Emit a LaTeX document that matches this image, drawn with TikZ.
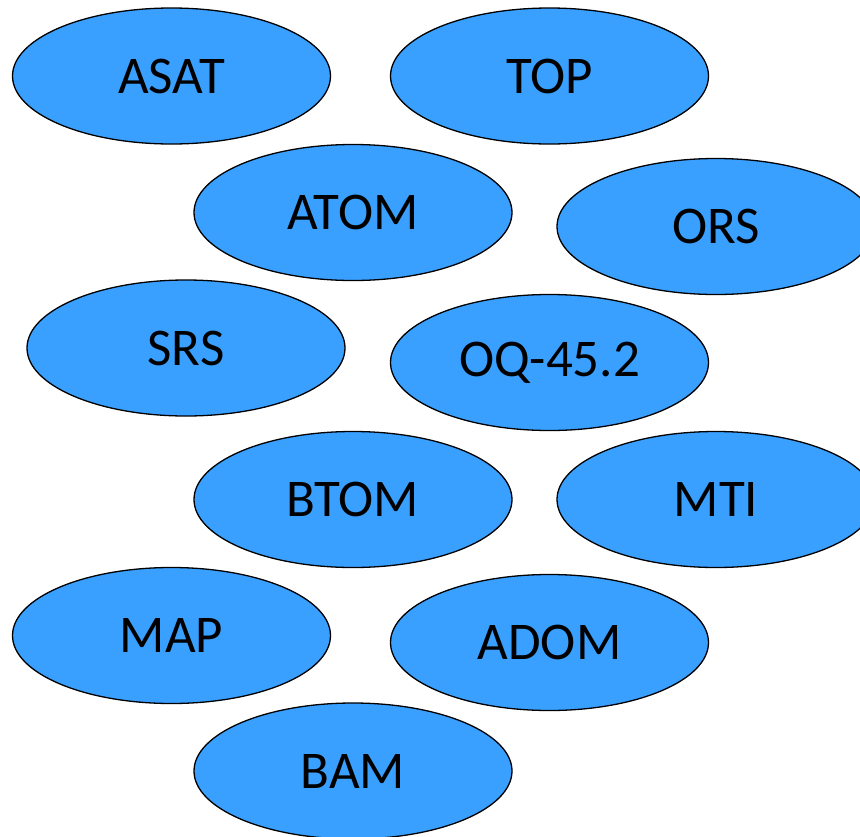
\documentclass[tikz,border=0pt]{standalone}
\usepackage{fontspec}
\setmainfont{Carlito}
\usetikzlibrary{shapes.geometric}
\definecolor{ovalblue}{RGB}{58,160,255}
\begin{document}
\begin{tikzpicture}[x=1pt,y=-1pt,
  oval/.style={ellipse, draw=black, line width=1.3pt, fill=ovalblue,
    minimum width=318pt, minimum height=136pt, inner sep=0pt,
    font=\fontsize{53}{60}\selectfont, text=black}]
\useasboundingbox (0,0) rectangle (860,836);
\clip (0,0) rectangle (860,836);
\node[oval] (asat) at (171.5,76) {ASAT};
\node[oval] (top) at (549.5,76) {TOP};
\node[oval] (atom) at (353,212.5) {ATOM};
\node[oval] (ors) at (716,226.5) {ORS};
\node[oval] (srs) at (186,348) {SRS};
\node[oval] (oq) at (549.5,362.5) {OQ-45.2};
\node[oval] (btom) at (353,499.5) {BTOM};
\node[oval] (mti) at (716,499.5) {MTI};
\node[oval] (map) at (171.5,635.5) {MAP};
\node[oval] (adom) at (549.5,642.5) {ADOM};
\node[oval] (bam) at (353,771) {BAM};
\end{tikzpicture}
\end{document}
